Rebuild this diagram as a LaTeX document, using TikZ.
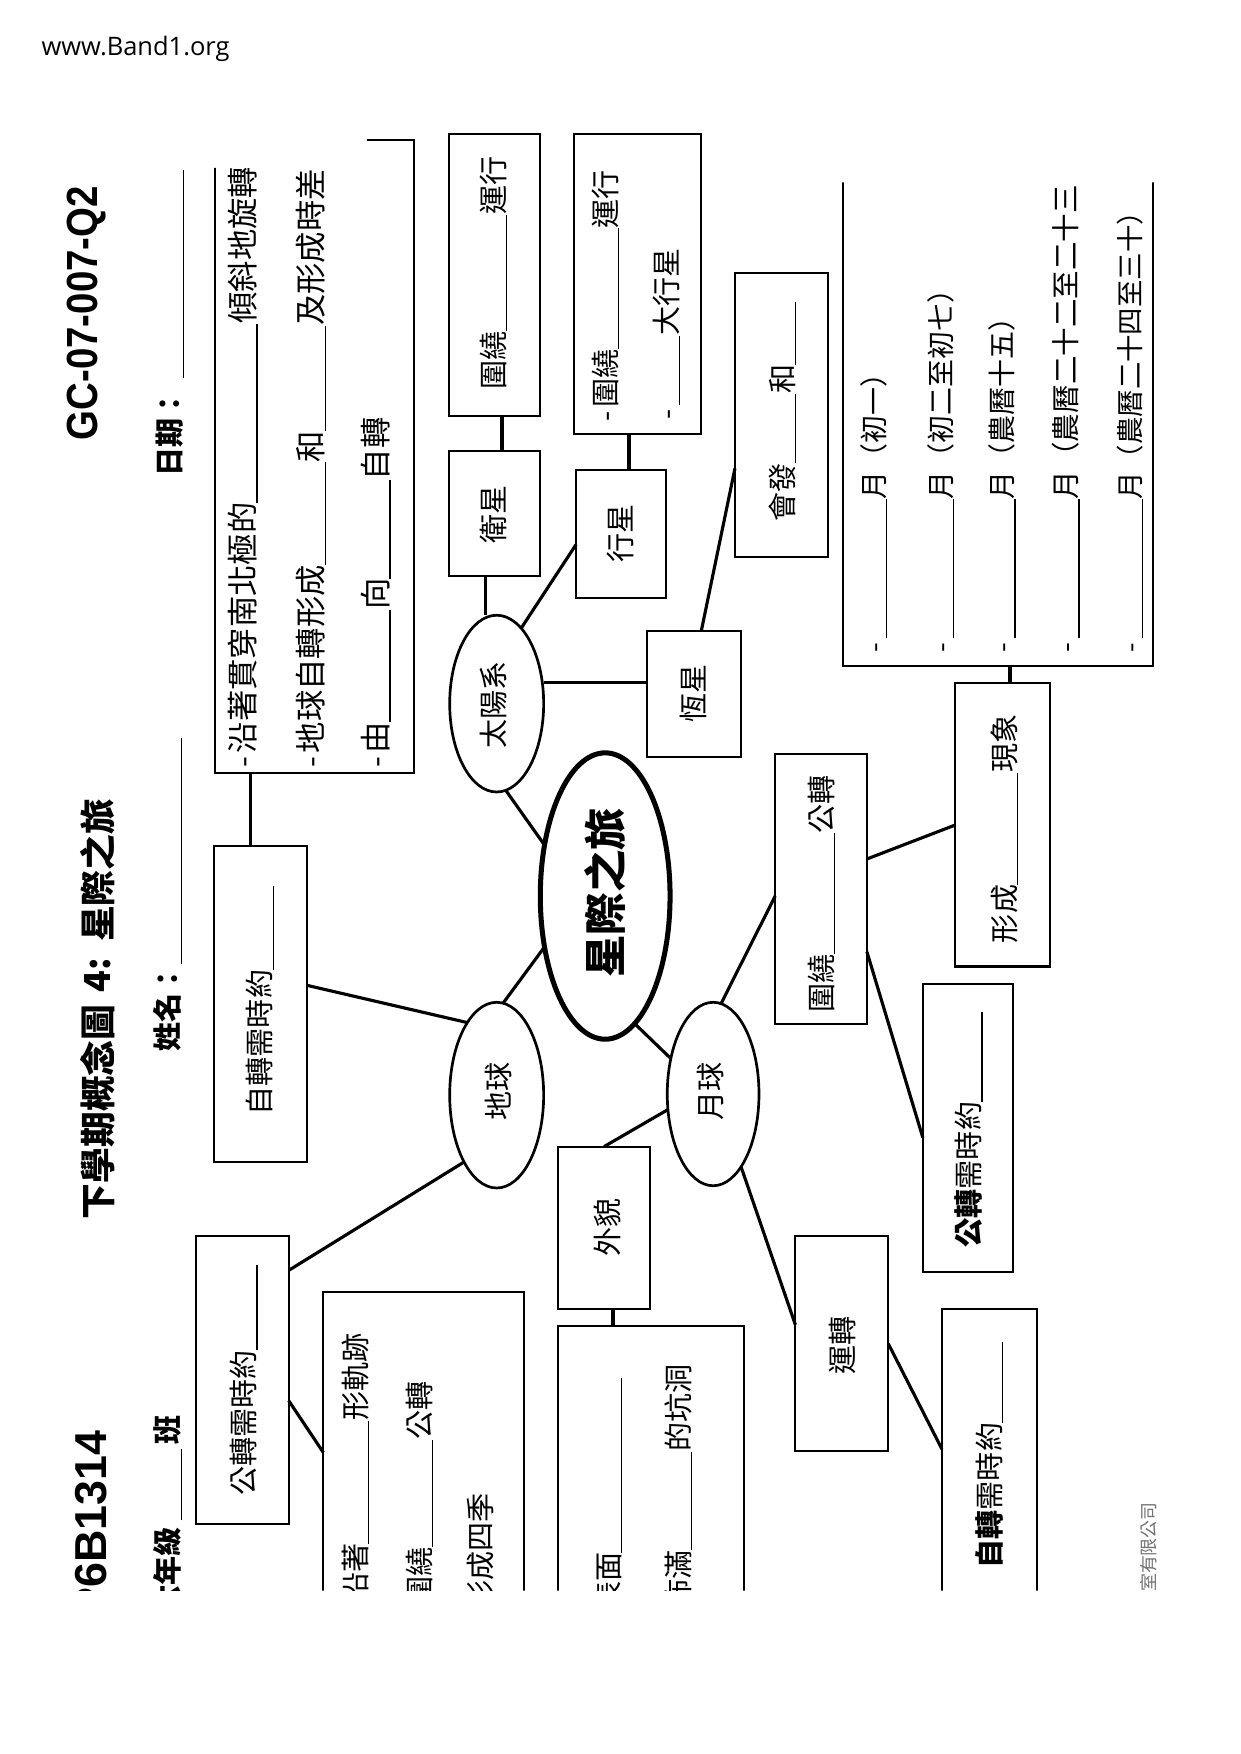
\documentclass[tikz,border=0pt]{standalone}
\usepackage{fontspec}
\usetikzlibrary{shapes.geometric}
\newfontfamily\cjk{Noto Sans CJK TC}
\newfontfamily\hdrf{Liberation Sans}
\newfontfamily\webf{Open Sans}
\newcommand{\bl}[1]{\rule[-0.1em]{#1pt}{1.1pt}}
\newcommand{\fz}[1]{\fontsize{#1}{#1}\selectfont}
\begin{document}
\begin{tikzpicture}[x=1pt,y=-1pt,
  box/.style={draw, line width=1.8pt, inner sep=0pt, outer sep=0pt},
  oval/.style={draw, ellipse, line width=2.4pt, inner sep=0pt, outer sep=0pt},
  conn/.style={line width=2.8pt},
  vt/.style={rotate=90, inner sep=0pt, outer sep=0pt, font=\cjk\fz{26}},
  vtb/.style={vt, font=\cjk\bfseries\fz{26}},
  vte/.style={vt, anchor=west, font=\cjk\fz{28}},
  mon/.style={vt, anchor=west, font=\cjk\fz{25}}
]
\path[use as bounding box, fill=white] (0,0) rectangle (1109,1568);
\node[anchor=base west, inner sep=0pt] (web) at (37,50) {\resizebox{168pt}{!}{\webf\fz{20}www.Band1.org}};

\begin{scope}
\clip (0,150) -- (328,150) -- (328,100) -- (745,100) -- (745,163) -- (1109,163) -- (1109,1422) -- (0,1422) -- cycle;

% ---------- header ----------
\node[vt, font=\hdrf\bfseries\fz{39}] (gc) at (77.5,280) {\scalebox{0.88}[1]{GC-07-007-Q2}};
\node[vtb, anchor=west] (date) at (152,426) {日期：\hspace{10pt}\bl{186}};
\node[vtb, anchor=west, font=\cjk\bfseries\fz{32}] (t1) at (87,1090) {下學期概念圖};
\node[vtb, font=\cjk\bfseries\fz{32}] (t2) at (87,872) {4:};
\node[vtb, anchor=east, font=\cjk\bfseries\fz{32}] (t3) at (87,714) {星際之旅};
\node[vtb, anchor=west] (name) at (150,940) {姓名：\bl{202}};
\node[vt, anchor=east, font=\hdrf\bfseries\fz{40}] (code) at (81.5,1279) {P6B1314};
\node[vtb, anchor=east] (cls) at (150,1265) {六年級\hspace{6pt}\bl{64}\hspace{4pt}班};

% ---------- boxes ----------
\node[box, minimum width=178pt, minimum height=566pt] (erot) at (281,408) {};
\node[box, minimum width=82pt, minimum height=252pt] (wt) at (442,246) {};
\node[box, minimum width=82pt, minimum height=112pt] (ws) at (442,459) {};
\node[box, minimum width=114pt, minimum height=268pt] (xt) at (570,254) {};
\node[box, minimum width=80pt, minimum height=115pt] (xx) at (555,477.5) {};
\node[box, minimum width=83pt, minimum height=254pt] (hf) at (698.5,371) {};
\node[box, minimum width=84pt, minimum height=113pt] (hx) at (620,620.5) {};
\node[box, minimum width=277pt, minimum height=475pt] (month) at (892.5,357.5) {};
\node[box, minimum width=85pt, minimum height=253pt] (xc) at (896.5,737.5) {};
\node[box, minimum width=82pt, minimum height=241pt] (rg) at (734,794.5) {};
\node[box, minimum width=81pt, minimum height=257pt] (mg) at (865.5,1008.5) {};
\node[box, minimum width=83pt, minimum height=283pt] (ezbox) at (232.5,897.5) {};
\node[box, minimum width=83pt, minimum height=257pt] (egbox) at (216.5,1233.5) {};
\node[box, minimum width=179pt, minimum height=345pt] (erev) at (378.5,1327.5) {};
\node[box, minimum width=82pt, minimum height=145pt] (wm) at (540,1097.5) {};
\node[box, minimum width=166pt, minimum height=315pt] (surf) at (582,1342.5) {};
\node[box, minimum width=83pt, minimum height=192pt] (yz) at (752.5,1201) {};
\node[box, minimum width=85pt, minimum height=330pt] (mz) at (884.5,1335) {};

% ---------- ellipses ----------
\node[oval, minimum width=84pt, minimum height=158pt] (sun) at (444,629) {};
\node[oval, minimum width=84pt, minimum height=166pt] (earth) at (444,979) {};
\node[oval, minimum width=82pt, minimum height=164pt] (moon) at (637.5,978) {};
\node[oval, line width=4.5pt, minimum width=116pt, minimum height=256pt] (main) at (541,801) {};

% ---------- connectors ----------
\draw[conn] (sun.-84) -- (main.140);
\draw[conn] (main.220) -- (earth.86);
\draw[conn] (earth.112) -- (ezbox.22);
\draw[conn] (earth.244) -- (egbox.67);
\draw[conn] (egbox.-24) -- (erev.162);
\draw[conn] ([xshift=-10pt]sun.north) -- ([xshift=-10pt]sun.north |- ws.south);
\draw[conn] (sun.72) -- (xx.193);
\draw[conn] (hx.166) -- (hx.166 -| sun.east);
\draw[conn, line width=3.4pt] ([xshift=7pt]ws.north) -- ([xshift=7pt]wt.south);
\draw[conn, line width=3.4pt] ([xshift=7pt]xx.north) -- ([xshift=7pt]xx.north |- xt.south);
\draw[conn] (hx.83) -- (hf.229);
\draw[conn] (main.-77) -- (moon.140);
\draw[conn] (moon.85) -- (rg.189);
\draw[conn] (moon.199) -- (wm.north);
\draw[conn] (moon.-69) -- (yz.158);
\draw[conn] (yz.east) -- (mz.137);
\draw[conn] (rg.-54) -- (mg.192);
\draw[conn] (rg.33) -- (xc.west);
\draw[conn, line width=3.4pt] ([xshift=6.5pt]xc.north) -- ([xshift=6.5pt]xc.north |- month.south);
\draw[conn, line width=3.4pt] ([xshift=-8.5pt]ezbox.north) -- ([xshift=-8.5pt]ezbox.north |- erot.south);
\draw[conn, line width=3.4pt] ([xshift=8pt]wm.south) -- ([xshift=8pt]wm.south |- surf.north);

% ---------- texts ----------
\node[vte] (e1) at (217,686) {-\hspace{3pt}沿著貫穿南北極的\bl{160}傾斜地旋轉};
\node[vte] (e2) at (278,686) {-\hspace{3pt}地球自轉形成\bl{92}和\bl{94}及形成時差};
\node[vte] (e3) at (336,686) {-\hspace{3pt}由\bl{100}向\bl{88}自轉};

\node[vt] (lws) at (441,460) {衛星};
\node[vt, anchor=west] (lwt) at (441,348) {圍繞\bl{104}運行};
\node[vt, anchor=west] (lxt1) at (541.5,377) {-\hspace{4pt}圍繞\bl{108}運行};
\node[vt, anchor=west] (lxt2) at (596,375) {-\hspace{4pt}\bl{62}大行星};
\node[vt] (lxx) at (555,477) {行星};
\node[vt, anchor=west] (lhf) at (699.5,466) {會發\bl{62}和\bl{56}};
\node[vt] (lhx) at (620,620) {恆星};

\node[mon] (m1) at (781,583) {-\hspace{4pt}\bl{124}月（初一）};
\node[mon] (m2) at (841,583) {-\hspace{4pt}\bl{124}月（初二至初七）};
\node[mon] (m3) at (896,583) {-\hspace{4pt}\bl{124}月（農曆十五）};
\node[mon, font=\cjk\fz{25.5}] (m4) at (953,583) {-\hspace{4pt}\bl{124}月（農曆二十二至二十三};
\node[mon, font=\cjk\fz{24.5}] (m5) at (1010,583) {-\hspace{4pt}\bl{124}月（農曆二十四至三十）};

\node[vt, anchor=west] (lxc) at (898,843) {形成\bl{100}現象};
\node[vt, anchor=west] (lrg) at (734.5,905) {圍繞\bl{108}公轉};
\node[vt, anchor=west] (lmg) at (866,1115) {\textbf{公轉}需時約\bl{80}};
\node[vt, anchor=west] (lmz) at (884.5,1402) {\textbf{自轉}需時約\bl{72}};
\node[vt] (lyz) at (753.5,1203) {運轉};

\node[vt] (lsun) at (441.5,630) {太陽系};
\node[vt] (learth) at (446,976) {地球};
\node[vt] (lmoon) at (635,976) {月球};
\node[vt, font=\cjk\bfseries\fz{38}] (lmain) at (541,798) {星際之旅};

\node[vt, anchor=west] (lez) at (232.5,997) {自轉需時約\bl{75}};
\node[vt, anchor=west] (leg) at (218,1337) {公轉需時約\bl{76}};
\node[vt, anchor=east] (ev1) at (318,1192) {-\hspace{3pt}沿著\bl{110}形軌跡};
\node[vt, anchor=east] (ev2) at (375,1235) {-\hspace{3pt}圍繞\bl{96}公轉};
\node[vt, anchor=east] (ev3) at (429.5,1335) {-\hspace{3pt}形成四季};
\node[vt] (lwm) at (543,1097) {外貌};
\node[vt, anchor=east] (sf1) at (544,1232) {-\hspace{3pt}表面\bl{156}};
\node[vt, anchor=east] (sf2) at (606.5,1220) {-\hspace{3pt}佈滿\bl{88}的坑洞};

\node[vt, anchor=west, font=\cjk\fz{16}, text=black!55] (copy) at (1027,1423) {室有限公司};
\end{scope}
\end{tikzpicture}
\end{document}
